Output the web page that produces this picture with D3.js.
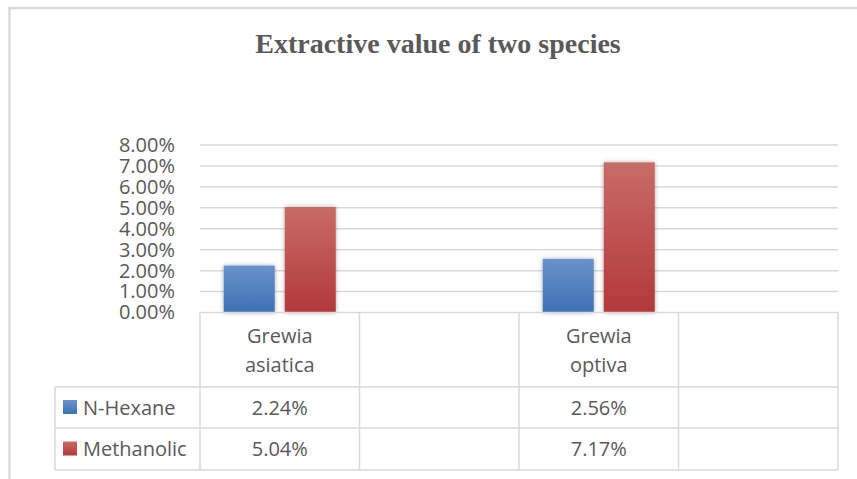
<!DOCTYPE html>
<html lang="en">
<head>
<meta charset="UTF-8">
<title>Extractive value of two species</title>
<script src="https://d3js.org/d3.v7.min.js"></script>
<style>
  body { margin: 0; background: #fff; }
  svg { display: block; }
  text { fill: #595959; }
</style>
</head>
<body>

<svg id="chart"></svg>

<script>
const width = 857, height = 479;
const svg = d3.select("#chart").attr("width", width).attr("height", height);

// ==== data ====
const categories = ["Grewia asiatica", "", "Grewia optiva", ""];
const seriesNames = ["N-Hexane", "Methanolic"];
const nHexane = [0.0224, null, 0.0256, null];
const methanolic = [0.0504, null, 0.0717, null];
const yTicks = [0, 0.01, 0.02, 0.03, 0.04, 0.05, 0.06, 0.07, 0.08];
const seriesValues = [nHexane, methanolic];

const fmt = d3.format(".2%");
const gridColor = "#d9d9d9";
const font = "'Open Sans', sans-serif";
const fontSize = "20px";

// layout
const plotLeft = 200, plotRight = 838;
const plotTop = 145, plotBottom = 312.5;
const rowLines = [387, 428, 470];
const legendLeft = 55;

const x = d3.scaleBand().domain(d3.range(categories.length)).range([plotLeft, plotRight]);
const xInner = d3.scaleBand().domain(seriesNames).range([0, x.bandwidth()])
  .paddingInner(0.164).paddingOuter(0.389);
const y = d3.scaleLinear().domain([0, 0.08]).range([plotBottom, plotTop]);

// gradients + shadow
const defs = svg.append("defs");
const grads = [
  { id: "g0", top: "#6a92ca", bottom: "#3d71b5" },
  { id: "g1", top: "#c86b67", bottom: "#b3393a" }
];
grads.forEach(g => {
  const lg = defs.append("linearGradient").attr("id", g.id)
    .attr("x1", 0).attr("y1", 0).attr("x2", 0).attr("y2", 1);
  lg.append("stop").attr("offset", "0%").attr("stop-color", g.top);
  lg.append("stop").attr("offset", "100%").attr("stop-color", g.bottom);
});
defs.append("filter").attr("id", "shadow")
  .attr("x", "-30%").attr("y", "-30%").attr("width", "160%").attr("height", "160%")
  .append("feDropShadow").attr("dx", 0).attr("dy", 0)
  .attr("stdDeviation", 2.2).attr("flood-color", "#000").attr("flood-opacity", 0.35);

// outer frame
svg.append("rect")
  .attr("x", 9.5).attr("y", 8).attr("width", width).attr("height", height)
  .attr("fill", "#fff").attr("stroke", gridColor).attr("stroke-width", 2.5);

// title
svg.append("text")
  .attr("x", 438).attr("y", 53)
  .attr("text-anchor", "middle")
  .style("font-family", "'Liberation Serif', 'Times New Roman', serif")
  .style("font-weight", "bold")
  .style("font-size", "28px")
  .text("Extractive value of two species");

// gridlines
svg.append("g").selectAll("line")
  .data(yTicks.slice(1))
  .join("line")
  .attr("x1", plotLeft).attr("x2", plotRight)
  .attr("y1", d => y(d)).attr("y2", d => y(d))
  .attr("stroke", gridColor).attr("stroke-width", 1.5);

// y axis labels
const yAxis = svg.append("g")
  .attr("transform", `translate(${plotLeft - 25},0)`)
  .call(d3.axisLeft(y).tickValues(yTicks).tickFormat(fmt).tickSize(0).tickPadding(0));
yAxis.select(".domain").remove();
yAxis.selectAll("text")
  .style("font-family", font).style("font-size", fontSize)
  .attr("fill", "#595959");

// bars
categories.forEach((c, i) => {
  seriesNames.forEach((s, j) => {
    const v = seriesValues[j][i];
    if (v == null) return;
    svg.append("rect")
      .attr("x", x(i) + xInner(s))
      .attr("y", y(v))
      .attr("width", xInner.bandwidth())
      .attr("height", y(0) - y(v))
      .attr("fill", `url(#g${j})`)
      .attr("filter", "url(#shadow)");
  });
});

// data table
const table = svg.append("g").attr("stroke", gridColor).attr("stroke-width", 1.5);
table.append("line")
  .attr("x1", plotLeft).attr("x2", plotRight)
  .attr("y1", plotBottom).attr("y2", plotBottom);
rowLines.forEach(r => {
  table.append("line")
    .attr("x1", legendLeft).attr("x2", plotRight)
    .attr("y1", r).attr("y2", r);
});
d3.range(categories.length + 1).forEach(i => {
  const xv = i < categories.length ? x(i) : plotRight;
  table.append("line")
    .attr("x1", xv).attr("x2", xv)
    .attr("y1", plotBottom).attr("y2", rowLines[2]);
});
table.append("line")
  .attr("x1", legendLeft).attr("x2", legendLeft)
  .attr("y1", rowLines[0]).attr("y2", rowLines[2]);

// category headers
categories.forEach((c, i) => {
  if (!c) return;
  const words = c.split(" ");
  const t = svg.append("text")
    .attr("text-anchor", "middle")
    .style("font-family", font).style("font-size", fontSize);
  words.forEach((w, k) => {
    t.append("tspan")
      .attr("x", x(i) + x.bandwidth() / 2)
      .attr("y", 343 + k * 29)
      .text(w);
  });
});

// legend rows + values
seriesNames.forEach((s, j) => {
  const top = rowLines[j], bot = rowLines[j + 1];
  const mid = (top + bot) / 2;
  svg.append("rect")
    .attr("x", 63).attr("y", mid - 7.5)
    .attr("width", 14).attr("height", 14)
    .attr("fill", `url(#g${j})`);
  svg.append("text")
    .attr("x", 83).attr("y", mid + 7)
    .style("font-family", font).style("font-size", fontSize)
    .text(s);
  categories.forEach((c, i) => {
    const v = seriesValues[j][i];
    if (v == null) return;
    svg.append("text")
      .attr("x", x(i) + x.bandwidth() / 2).attr("y", mid + 7)
      .attr("text-anchor", "middle")
      .style("font-family", font).style("font-size", fontSize)
      .text(fmt(v));
  });
});
</script>
</body>
</html>
